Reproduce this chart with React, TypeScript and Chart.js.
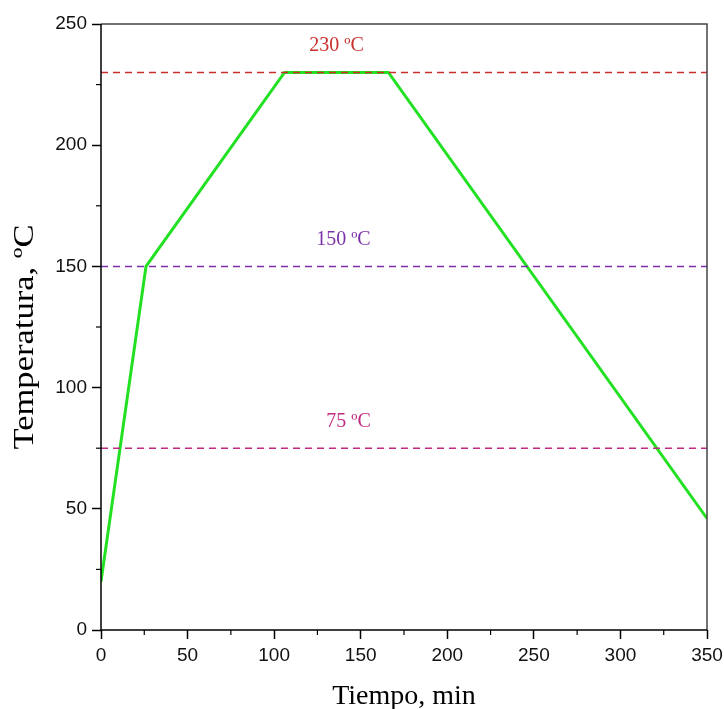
import { useEffect, useRef } from 'react';
import { Chart, registerables } from 'chart.js';

Chart.register(...registerables);

// Temperature profile (time in minutes, temperature in ºC)
const timeMin = [0, 26, 106, 166, 350];
const tempC = [20, 150, 230, 230, 46];

// Horizontal reference levels and their captions
const refTemps = [230, 150, 75];
const refLabels = ['230 ºC', '150 ºC', '75 ºC'];
const refLabelX = [136, 140, 143];
const refColors = ['#c9302c', '#7b32a8', '#c02a80'];

// Axis ranges and tick spacing
const xRange = [0, 350];
const yRange = [0, 250];
const majorStep = 50;
const minorStep = 25;

const xTitle = 'Tiempo, min';
const yTitle = 'Temperatura, ºC';

const serif = '"Liberation Serif", "Times New Roman", serif';
const sans = '"Liberation Sans", Arial, sans-serif';

const framePlugin = {
  id: 'frameAndLabels',
  afterDatasetsDraw(chart: any) {
    const { ctx, chartArea } = chart;
    const { left, right, top, bottom } = chartArea;
    const xs = chart.scales.x;
    const ys = chart.scales.y;
    ctx.save();

    // top and right frame lines
    ctx.strokeStyle = '#444';
    ctx.lineWidth = 1.5;
    ctx.beginPath();
    ctx.moveTo(left, top);
    ctx.lineTo(right, top);
    ctx.lineTo(right, bottom);
    ctx.stroke();

    // left and bottom axis lines
    ctx.strokeStyle = '#000';
    ctx.beginPath();
    ctx.moveTo(left, top);
    ctx.lineTo(left, bottom);
    ctx.lineTo(right, bottom);
    ctx.stroke();

    // minor ticks
    ctx.lineWidth = 1.2;
    for (let v = xRange[0] + minorStep; v < xRange[1]; v += majorStep) {
      const px = xs.getPixelForValue(v);
      ctx.beginPath();
      ctx.moveTo(px, bottom);
      ctx.lineTo(px, bottom + 5);
      ctx.stroke();
    }
    for (let v = yRange[0] + minorStep; v < yRange[1]; v += majorStep) {
      const py = ys.getPixelForValue(v);
      ctx.beginPath();
      ctx.moveTo(left, py);
      ctx.lineTo(left - 5, py);
      ctx.stroke();
    }

    // captions above the reference levels
    ctx.font = `20px ${serif}`;
    ctx.textAlign = 'center';
    ctx.textBaseline = 'alphabetic';
    refTemps.forEach((t, i) => {
      ctx.fillStyle = refColors[i];
      ctx.fillText(refLabels[i], xs.getPixelForValue(refLabelX[i]), ys.getPixelForValue(t) - 21);
    });

    // axis titles
    ctx.fillStyle = '#000';
    ctx.font = `28px ${serif}`;
    ctx.fillText(xTitle, (left + right) / 2, 704);

    ctx.save();
    ctx.font = `29px ${serif}`;
    const w = ctx.measureText(yTitle).width;
    ctx.translate(33, (top + bottom) / 2 + 10);
    ctx.rotate(-Math.PI / 2);
    ctx.scale(225 / w, 1);
    ctx.fillText(yTitle, 0, 0);
    ctx.restore();

    ctx.restore();
  },
};

export default function App() {
  const canvasRef = useRef<HTMLCanvasElement | null>(null);

  useEffect(() => {
    if (!canvasRef.current) return;
    const refSets = refTemps.map((t, i) => ({
      data: xRange.map((x) => ({ x, y: t })),
      borderColor: refColors[i],
      borderWidth: 1.5,
      borderDash: [7, 5],
      pointRadius: 0,
      showLine: true,
    }));
    const chart = new Chart(canvasRef.current, {
      type: 'scatter',
      data: {
        datasets: [
          ...refSets,
          {
            data: timeMin.map((x, i) => ({ x, y: tempC[i] })),
            borderColor: '#22e022',
            borderWidth: 3,
            pointRadius: 0,
            showLine: true,
          },
        ],
      },
      plugins: [framePlugin],
      options: {
        responsive: false,
        animation: false,
        layout: { padding: { top: 24, right: 17, left: 0, bottom: 0 } },
        plugins: { legend: { display: false }, tooltip: { enabled: false } },
        scales: {
          x: {
            type: 'linear',
            min: xRange[0],
            max: xRange[1],
            ticks: { stepSize: majorStep, font: { family: sans, size: 19 }, color: '#111', padding: 5, maxRotation: 0 },
            grid: { drawOnChartArea: false, tickLength: 9, tickColor: '#000', tickWidth: 1.5 },
            border: { display: false },
            afterFit: (s: any) => {
              s.height = 79;
              s.paddingLeft = 0;
              s.paddingRight = 0;
            },
          },
          y: {
            type: 'linear',
            min: yRange[0],
            max: yRange[1],
            ticks: { stepSize: majorStep, font: { family: sans, size: 19 }, color: '#111', padding: 5 },
            grid: { drawOnChartArea: false, tickLength: 9, tickColor: '#000', tickWidth: 1.5 },
            border: { display: false },
            afterFit: (s: any) => {
              s.width = 101;
              s.paddingTop = 0;
              s.paddingBottom = 0;
            },
          },
        },
      },
    });
    return () => chart.destroy();
  }, []);

  return (
    <div style={{ position: 'fixed', left: 0, top: 0, width: 724, height: 709, background: '#fff' }}>
      <canvas ref={canvasRef} width={724} height={709} />
    </div>
  );
}
